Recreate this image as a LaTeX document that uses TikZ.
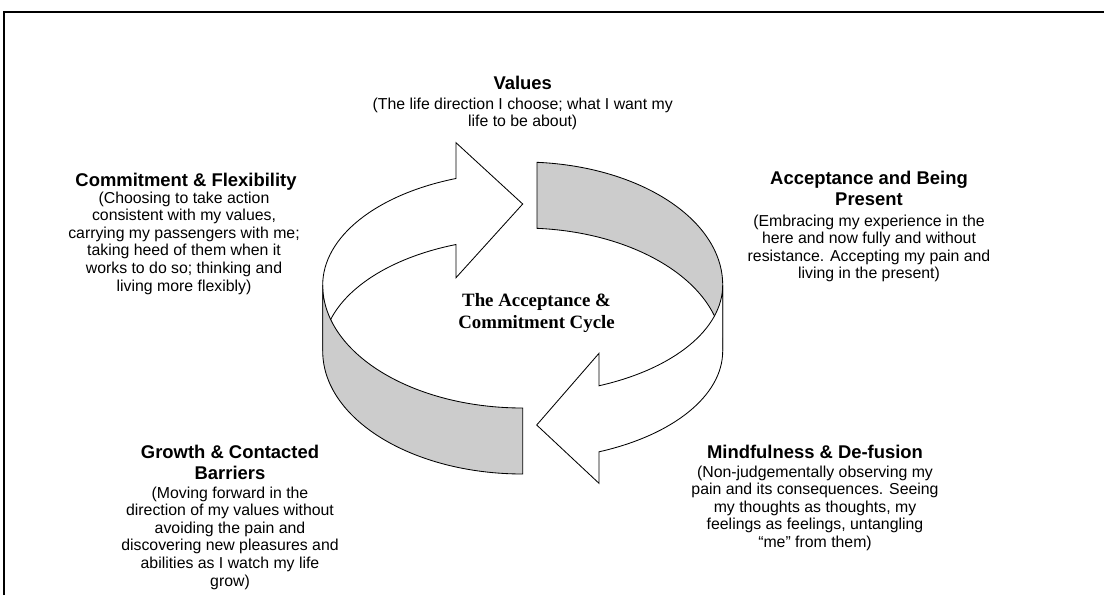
\documentclass[tikz,border=0pt]{standalone}
\usepackage{fontspec}
\setmainfont{Liberation Sans}
\newfontfamily\cycletitlefont{Liberation Serif}
\usepackage{tikz}
\definecolor{bandgray}{RGB}{204,204,204}

\begin{document}
\begin{tikzpicture}[x=0.025cm,y=-0.025cm,
    head/.style={anchor=north,inner sep=0,align=center,font=\fontsize{13.1}{14.9}\selectfont\bfseries},
    desc/.style={anchor=north,inner sep=0,align=center,font=\fontsize{11.26}{12.45}\selectfont},
    title/.style={inner sep=0,align=center,font=\fontsize{13.4}{16.1}\cycletitlefont\bfseries},
    band/.style={draw,fill=bandgray,line width=0.6pt},
    curl/.style={draw,fill=white,line width=0.6pt}]
    \useasboundingbox (0,0) rectangle (1104,595);
    \draw [line width=1.3pt] (4,595) -- (4,12) -- (1104,12);

    % back part of the ring, then the two arrows, then the front part
    \path [band] (537,162.3) arc [start angle=274.1,end angle=360,x radius=200,y radius=123]
      -- (722.7,351) arc [start angle=360,end angle=274.1,x radius=200,y radius=123] -- cycle;
    \path [curl] (722.7,285) arc [start angle=0,end angle=67.57,x radius=200,y radius=109]
      -- (599,353.3) -- (536.7,425) -- (599,483.3) -- (599,451.8)
      arc [start angle=67.57,end angle=0,x radius=200,y radius=109] -- cycle;
    \path [curl] (322.7,285) arc [start angle=180,end angle=250.52,x radius=200,y radius=113]
      -- (456,142.7) -- (522.7,204) -- (456,277.7) -- (456,244.5)
      arc [start angle=250.52,end angle=180,x radius=200,y radius=113] -- cycle;
    \path [band] (322.7,285) arc [start angle=180,end angle=90,x radius=200,y radius=123]
      -- (522.7,474) arc [start angle=90,end angle=180,x radius=200,y radius=123] -- cycle;

    \node [title] (cycle) at (536.5,313) {The Acceptance \&\\Commitment Cycle};

    \node [head] (valueshead) at (522.7,76.3) {Values};
    \node [desc] (valuestext) at (522.7,97.3) {(The life direction I choose; what I want my\\life to be about)};

    \node [head] (commithead) at (186,173) {Commitment \& Flexibility};
    \node [desc] (committext) at (184,191.7) {(Choosing to take action\\consistent with my values,\\carrying my passengers with me;\\taking heed of them when it\\works to do so; thinking and\\living more flexibly)};

    \node [head] (accepthead) at (869,171.3) {Acceptance and Being\\Present};
    \node [desc] (accepttext) at (869,214.7) {(Embracing my experience in the\\here and now fully and without\\resistance. Accepting my pain and\\living in the present)};

    \node [head] (growthhead) at (230,444.7) {Growth \& Contacted\\Barriers};
    \node [desc] (growthtext) at (230,486.7) {(Moving forward in the\\direction of my values without\\avoiding the pain and\\discovering new pleasures and\\abilities as I watch my life\\grow)};

    \node [head] (mindhead) at (815,444.7) {Mindfulness \& De-fusion};
    \node [desc] (mindtext) at (815,465.7) {(Non-judgementally observing my\\pain and its consequences. Seeing\\my thoughts as thoughts, my\\feelings as feelings, untangling\\“me” from them)};
\end{tikzpicture}
\end{document}
